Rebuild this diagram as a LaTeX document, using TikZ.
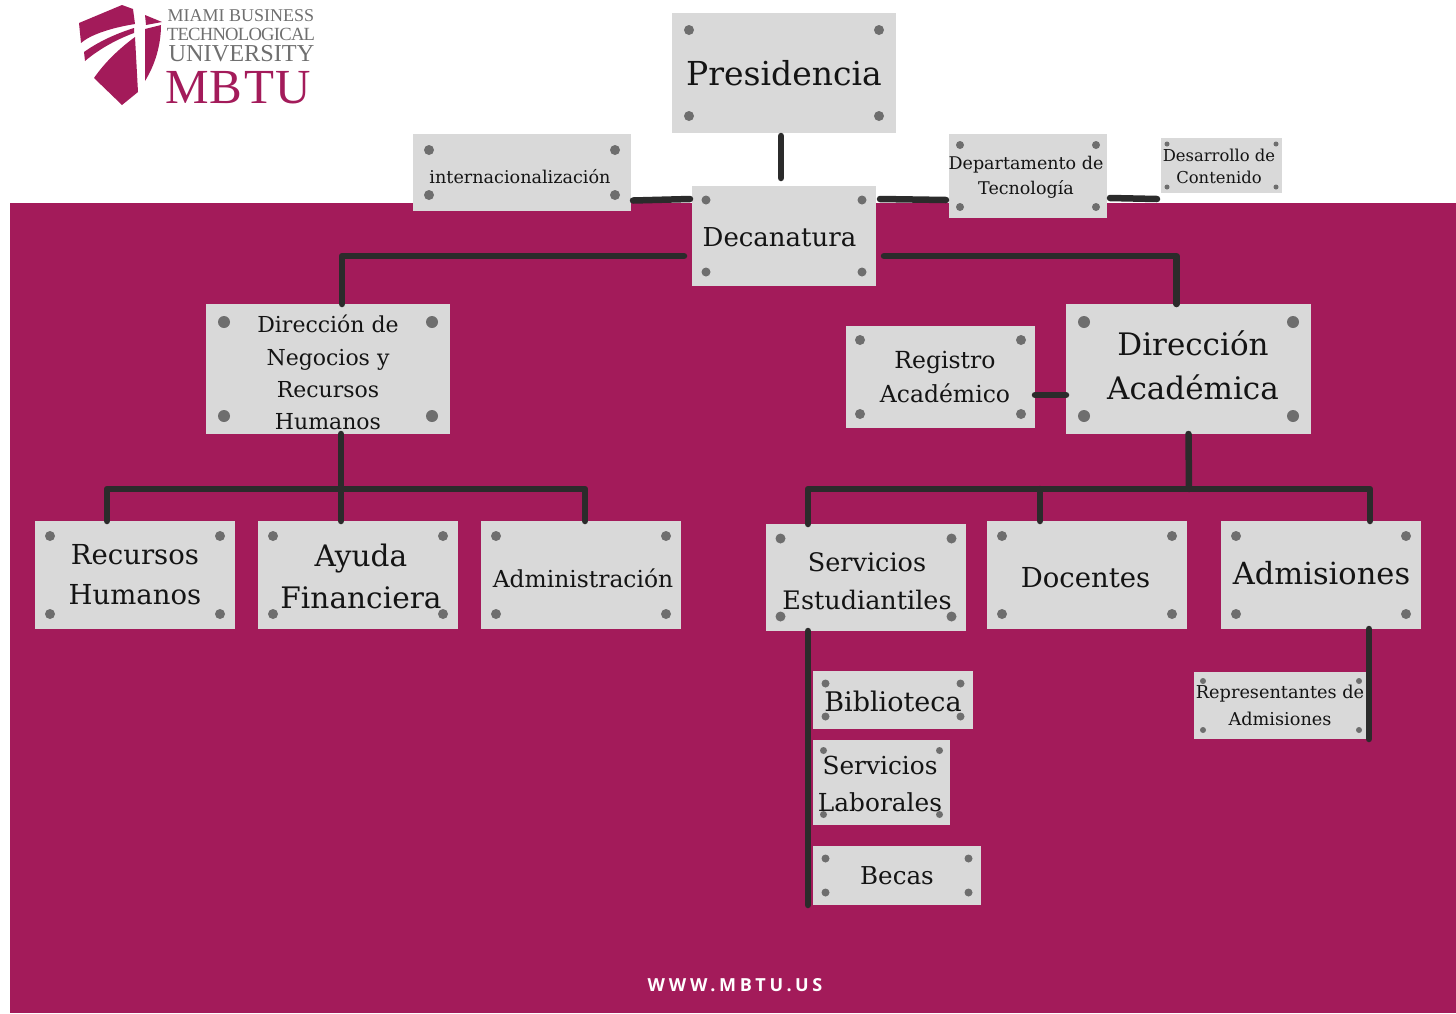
\documentclass[tikz,border=0pt]{standalone}
\usepackage{fontspec}
\setmainfont{DejaVu Serif}
\newfontfamily\logofont{Liberation Serif}
\newfontfamily\webfont{Open Sans}
\definecolor{mbtu}{HTML}{A31B5A}
\definecolor{plategray}{HTML}{D9D9D9}
\definecolor{rivet}{HTML}{6E6E6E}
\definecolor{linkdark}{HTML}{2B2B2B}
\definecolor{logogray}{HTML}{6F6F6F}
\tikzset{
  plate/.style={fill=plategray,inner sep=0pt,outer sep=0pt},
  platetext/.style={align=center,inner sep=0pt,text=black!92},
  link/.style={draw=linkdark,line width=6.5pt,line cap=round,line join=round},
  logotext/.style={inner sep=0pt,text=logogray}
}
\begin{document}
\begin{tikzpicture}[x=1pt,y=-1pt]
  \useasboundingbox (0,0) rectangle (1456,1013);
  \fill[mbtu] (10,203) rectangle (1456,1013);
  % logo
  \fill[mbtu] (79,23) -- (122,5) -- (133,9) -- (135,24) .. controls (110,28) and (90,35) .. (81,43) -- cycle;
  \fill[mbtu] (84,52) .. controls (98,42) and (115,34) .. (134,28) -- (134,33) .. controls (115,40) and (98,50) .. (85,61) -- cycle;
  \fill[mbtu] (94,78) .. controls (105,62) and (120,48) .. (135,37) -- (138,92) -- (122,105) -- cycle;
  \fill[mbtu] (145,15) -- (162,22) -- (146,25) -- cycle;
  \fill[mbtu] (145,29) -- (161,25) .. controls (161,45) and (155,65) .. (145,81) -- cycle;
  \node[logotext,font=\logofont\fontsize{18}{18}\selectfont] (logoa) at (241,16) {MIAMI BUSINESS};
  \node[logotext,font=\logofont\fontsize{18.6}{18.6}\selectfont] (logob) at (241,34) {\addfontfeature{LetterSpace=-4}TECHNOLOGICAL};
  \node[logotext,font=\logofont\fontsize{24.3}{24.3}\selectfont] (logoc) at (241.5,54) {UNIVERSITY};
  \node[logotext,text=mbtu,font=\logofont\fontsize{49}{49}\selectfont] (logod) at (238,88) {\addfontfeature{LetterSpace=3}MBTU};
  % plates: name/x1/y1/x2/y2/inset/rivet/size/leading/text x/text y/text
  \foreach \nm/\xa/\ya/\xb/\yb/\ins/\rad/\fs/\ld/\tx/\ty/\txt in {
    presidencia/672/13/896/133/17/5/33/40/784/73/{Presidencia},
    intern/413/134/631/211/16/5/17.6/22/520/177/{internacionalización},
    decanatura/692/186/876/286/14/4.5/26/32/779.5/237/{Decanatura},
    tecnologia/949/134/1107/218/11/4/17.5/25/1026/177.5/{Departamento de\\Tecnología},
    contenido/1161/138/1282/193/6/2.5/16.4/22/1219/166/{Desarrollo de\\Contenido},
    dirnegocios/206/304/450/434/18/6/22/32.3/328/372.5/{Dirección de\\Negocios y\\Recursos\\Humanos},
    registro/846/326/1035/428/14/5/23.5/34/945/377/{Registro\\Académico},
    diracademica/1066/304/1311/434/18/6/31/44/1193/365/{Dirección\\Académica},
    rechumanos/35/521/235/629/15/5/27.5/40/135/575/{Recursos\\Humanos},
    ayuda/258/521/458/629/15/5/29.6/42/361/576/{Ayuda\\Financiera},
    administracion/481/521/681/629/15/5/23.4/30/583/578/{Administración},
    servicios/766/524/966/631/14.5/5/25.5/38/867/581/{Servicios\\Estudiantiles},
    docentes/987/521/1187/629/15/5/27.5/34/1085.5/578/{Docentes},
    admisiones/1221/521/1421/629/15/5/30.5/38/1321.5/573/{Admisiones},
    biblioteca/813/671/973/729/12.5/4/27/34/893/701/{Biblioteca},
    laborales/813/740/950/825/10.5/3.5/24.8/37/880/783.5/{Servicios\\Laborales},
    becas/813/846/981/905/12.5/4/24.6/30/897/876/{Becas},
    representantes/1194/672/1368/739/9/3/17.7/27/1280/705.5/{Representantes de\\Admisiones}} {
    \node[plate,minimum width={(\xb-\xa)*1pt},minimum height={(\yb-\ya)*1pt}] (\nm) at ({(\xa+\xb)/2},{(\ya+\yb)/2}) {};
    \foreach \cx/\cy in {\xa+\ins/\ya+\ins,\xb-\ins/\ya+\ins,\xa+\ins/\yb-\ins,\xb-\ins/\yb-\ins} {
      \fill[rivet] ({\cx},{\cy}) circle (\rad pt);
    }
    \node[platetext,font=\fontsize{\fs}{\ld}\selectfont] (\nm-text) at (\tx,\ty) {\txt};
  }
  % upper links
  \draw[link] ([xshift=-3pt]presidencia.south) ++(0,3) -- ([xshift=-3pt,yshift=8pt]decanatura.north);
  \draw[link] ([yshift=-28pt,xshift=2pt]intern.east) -- ([yshift=37pt,xshift=-2pt]decanatura.west);
  \draw[link] ([yshift=37pt,xshift=4pt]decanatura.east) -- ([yshift=-24pt,xshift=-3pt]tecnologia.west);
  \draw[link] ([yshift=-22pt,xshift=3pt]tecnologia.east) -- ([yshift=-33.5pt,xshift=-4pt]contenido.west);
  % links from decanatura
  \draw[link] ([xshift=-8pt,yshift=-20pt]decanatura.west) -| ([xshift=14pt]dirnegocios.north);
  \draw[link] ([xshift=8pt,yshift=-20pt]decanatura.east) -| ([xshift=-12pt]diracademica.north);
  \draw[link] ([yshift=-18pt]registro.east) -- ([yshift=-26pt]diracademica.west);
  % negocios branch
  \coordinate (busneg) at (341,489);
  \draw[link] ([xshift=13pt]dirnegocios.south) -- ([xshift=-17pt]ayuda.north);
  \draw[link] ([xshift=-28pt]rechumanos.north) |- (busneg) -| ([xshift=4pt]administracion.north);
  % academica branch
  \coordinate (busaca) at (1189,489);
  \draw[link] (diracademica.south) -- (busaca);
  \draw[link] ([xshift=-58pt]servicios.north) |- (busaca) -| ([xshift=49pt]admisiones.north);
  \draw[link] ([xshift=-47pt]docentes.north) -- ++(0,-32);
  \draw[link] ([xshift=-58pt]servicios.south) -- ([xshift=-5pt]becas.south west);
  \draw[link] ([xshift=48pt]admisiones.south) -- ([xshift=1pt]representantes.south east);
  \node[text=white,inner sep=0pt,font=\webfont\bfseries\fontsize{18}{20}\selectfont] (web) at (735,985) {\addfontfeature{LetterSpace=21}WWW.MBTU.US};
\end{tikzpicture}
\end{document}
